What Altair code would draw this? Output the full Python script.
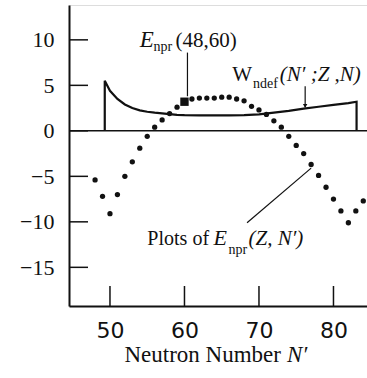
import altair as alt
import pandas as pd

# ---- data ----
n_dots = list(range(48, 85))
e_dots = [-5.4, -7.2, -9.1, -7.0, -5.0, -3.4, -1.9, -0.6, 0.4, 1.2, 1.9, 2.6, 3.2,
          3.5, 3.6, 3.6, 3.6, 3.7, 3.7, 3.5, 3.3, 2.7, 2.3, 1.8, 1.1, 0.4, -0.6, -1.6,
          -2.5, -3.7, -4.9, -6.2, -7.5, -8.8, -10.1, -8.8, -7.7]

n_mark = [60]
e_mark = [3.2]

w_n = [49.3, 49.3, 50, 51, 52, 53, 54, 55, 56, 57, 58, 59, 60, 62, 64, 66, 68, 70,
       72, 74, 76, 78, 80, 82, 83.1, 83.1]
w_v = [0, 5.5, 4.4, 3.5, 2.9, 2.5, 2.25, 2.1, 2.0, 1.92, 1.83, 1.76, 1.72, 1.7, 1.7,
       1.7, 1.72, 1.8, 2.0, 2.2, 2.45, 2.65, 2.85, 3.05, 3.2, 0]

y_ticks = [10, 5, 0, -5, -10, -15]
x_ticks = [50, 60, 70, 80]

# annotation text pieces: N', value, text, italic, size, align
seg_n = [54.0, 55.85, 58.8,
         69.06, 69.2, 72.8,
         63.3, 63.9, 65.9, 68.6,
         72.95, 73.76]
seg_v = [9.23, 8.75, 9.23,
         5.5, 4.75, 5.5,
         -12.6, -12.6, -13.5, -12.6,
         -25.4, -25.4]
seg_t = ["E", "npr", "(48,60)",
         "W", "ndef", "(N′ ;Z ,N)",
         "Plots of", "E", "npr", "(Z, N′)",
         "Neutron Number", "N′"]
seg_i = [True, False, False,
         False, False, True,
         False, True, False, True,
         False, True]
seg_s = [23, 14, 21,
         21, 14, 21,
         20, 22, 14, 21,
         23, 23]
seg_a = ["left", "left", "left",
         "right", "left", "left",
         "right", "left", "left", "left",
         "right", "left"]

# pointer lines
ptr_n1 = [60.4, 76.2, 68.4]
ptr_v1 = [8.6, 4.9, -10.1]
ptr_n2 = [60.4, 76.2, 77.0]
ptr_v2 = [3.8, 2.6, -4.1]
head_n = [76.2]
head_v = [2.75]

# ---- frames ----
dots = pd.DataFrame({"n": n_dots, "e": e_dots})
mark = pd.DataFrame({"n": n_mark, "e": e_mark})
wdf = pd.DataFrame({"n": w_n, "e": w_v, "o": list(range(len(w_n)))})
segs = pd.DataFrame({"n": seg_n, "e": seg_v, "t": seg_t, "i": seg_i, "s": seg_s, "a": seg_a})
ptrs = pd.DataFrame({"n": ptr_n1, "e": ptr_v1, "n2": ptr_n2, "e2": ptr_v2})
heads = pd.DataFrame({"n": head_n, "e": head_v})
yt = pd.DataFrame({"e": y_ticks})
xt = pd.DataFrame({"n": x_ticks})

W, H = 298, 301
xs = alt.Scale(domain=[44.5, 84.5], nice=False, zero=False)
ys = alt.Scale(domain=[-19.25, 13.83], nice=False, zero=False)

x_axis = alt.Axis(values=x_ticks, ticks=False, grid=False, title=None,
                  labelFont="DejaVu Sans", labelFontSize=22, labelColor="#111",
                  labelPadding=14, domainColor="#111", domainWidth=2)
y_axis = alt.Axis(values=y_ticks, ticks=False, grid=False, title=None,
                  labelFont="Liberation Serif", labelFontSize=22, labelColor="#111",
                  labelPadding=15, domainColor="#111", domainWidth=2)


def X(f="n"):
    return alt.X(f"{f}:Q", scale=xs, axis=x_axis)


def Y(f="e"):
    return alt.Y(f"{f}:Q", scale=ys, axis=y_axis)


zero = alt.Chart(pd.DataFrame({"e": [0]})).mark_rule(color="#111", strokeWidth=1.5).encode(y=Y())

ytick = alt.Chart(yt).mark_rule(color="#111", strokeWidth=1.5).encode(
    y=Y(), x=alt.value(0), x2=alt.value(19))
xtick = alt.Chart(xt).mark_rule(color="#111", strokeWidth=1.5).encode(
    x=X(), y=alt.value(H), y2=alt.value(H - 20))

wline = alt.Chart(wdf).mark_line(color="#111", strokeWidth=2.2).encode(
    x=X(), y=Y(), order="o:Q")

pts = alt.Chart(dots).mark_circle(color="#111", size=28, opacity=1).encode(x=X(), y=Y())
sq = alt.Chart(mark).mark_square(color="#111", size=70, opacity=1, filled=True).encode(x=X(), y=Y())

lines = alt.Chart(ptrs).mark_rule(color="#111", strokeWidth=1.2).encode(
    x=X(), y=Y(), x2="n2:Q", y2="e2:Q")
arrh = alt.Chart(heads).mark_point(shape="triangle-down", filled=True, color="#111",
                                   size=20, opacity=1).encode(x=X(), y=Y())

txt_layers = []
for ital in (False, True):
    for al in ("left", "right"):
        cond = f"{'' if ital else '!'}datum.i && datum.a == '{al}'"
        props = dict(align=al, baseline="alphabetic", font="Liberation Serif", color="#111")
        if ital:
            props["fontStyle"] = "italic"
        txt_layers.append(
            alt.Chart(segs).transform_filter(cond).mark_text(**props).encode(
                x=X(), y=Y(), text="t:N", size=alt.Size("s:Q", scale=None)))

chart = alt.layer(zero, ytick, xtick, wline, pts, sq, lines, arrh, *txt_layers).properties(
    width=W, height=H,
    autosize=alt.AutoSizeParams(type="none"),
    padding={"left": 69, "top": 5, "right": 0, "bottom": 72},
).configure_view(stroke=None).configure(background="white")

chart.save("out.html", embed_options={"renderer": "svg", "actions": False})
